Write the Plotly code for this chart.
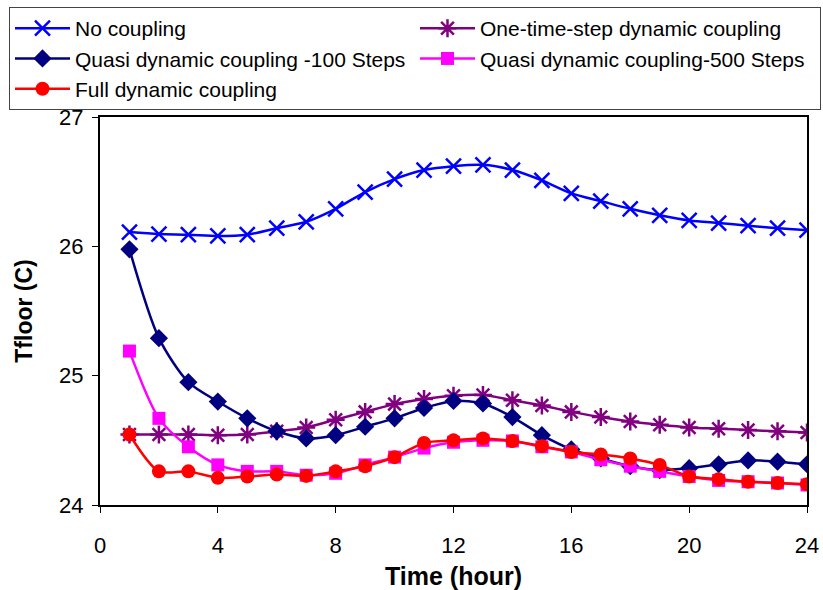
import plotly.graph_objects as go

hours = list(range(1, 25))

no_coupling = [26.11, 26.095, 26.09, 26.08, 26.09, 26.14, 26.19, 26.29, 26.42, 26.52, 26.59, 26.62,
               26.63, 26.59, 26.51, 26.41, 26.35, 26.29, 26.24, 26.20, 26.18, 26.16, 26.14, 26.125]
one_step = [24.545, 24.545, 24.545, 24.54, 24.545, 24.57, 24.60, 24.66, 24.72, 24.78, 24.82, 24.845,
            24.85, 24.81, 24.77, 24.72, 24.68, 24.645, 24.62, 24.60, 24.59, 24.58, 24.57, 24.56]
quasi_100 = [25.977, 25.29, 24.95, 24.80, 24.67, 24.57, 24.515, 24.54, 24.605, 24.67, 24.75, 24.805,
             24.785, 24.68, 24.54, 24.43, 24.36, 24.30, 24.27, 24.285, 24.315, 24.345, 24.335, 24.315]
quasi_500 = [25.19, 24.67, 24.45, 24.31, 24.26, 24.26, 24.23, 24.245, 24.31, 24.37, 24.44, 24.485,
             24.50, 24.495, 24.45, 24.41, 24.35, 24.30, 24.26, 24.22, 24.19, 24.18, 24.17, 24.155]
full_dyn = [24.545, 24.26, 24.26, 24.21, 24.22, 24.235, 24.225, 24.26, 24.30, 24.37, 24.48, 24.50,
            24.515, 24.495, 24.455, 24.41, 24.39, 24.36, 24.31, 24.22, 24.20, 24.18, 24.17, 24.16]

series = [
    ("No coupling", no_coupling, "#0000FF", "x-thin-open", 15),
    ("One-time-step dynamic coupling", one_step, "#800080", "asterisk-open", 15),
    ("Quasi dynamic coupling -100 Steps", quasi_100, "#000080", "diamond", 14),
    ("Quasi dynamic coupling-500 Steps", quasi_500, "#FF00FF", "square", 13),
    ("Full dynamic coupling", full_dyn, "#FF0000", "circle", 14),
]

x_ticks = [0, 4, 8, 12, 16, 20, 24]
y_ticks = [24, 25, 26, 27]

fig = go.Figure()
for name, vals, color, sym, size in series:
    open_sym = sym.endswith("open")
    fig.add_trace(go.Scatter(
        x=hours, y=vals, name=name,
        mode="lines+markers",
        line=dict(color=color, width=2.5, shape="spline", smoothing=0.8),
        marker=dict(symbol=sym, size=size, color=color,
                    line=dict(color=color, width=2.5 if open_sym else 0)),
    ))

font = "Liberation Sans, Arial, sans-serif"
W, H = 823, 590
L, R, T, B = 100, 16, 117, 85
pw, ph = W - L - R, H - T - B

fig.update_layout(
    width=W, height=H,
    margin=dict(l=L, r=R, t=T, b=B, autoexpand=False),
    paper_bgcolor="white", plot_bgcolor="white",
    font=dict(family=font, size=22, color="black"),
    showlegend=True,
    legend=dict(
        orientation="h", xref="paper", yref="paper",
        x=(9 - L) / pw, y=1 + (T - 7) / ph, xanchor="left", yanchor="top",
        entrywidth=335, entrywidthmode="pixels",
        bordercolor="#444444", borderwidth=1, bgcolor="white",
        font=dict(family=font, size=21, color="black"),
        itemwidth=55,
    ),
    xaxis=dict(
        range=[0, 24], tickvals=x_ticks, ticktext=[str(v) for v in x_ticks],
        showgrid=False, zeroline=False, showline=True, linecolor="black", linewidth=2,
        mirror=True, ticks="outside", ticklen=6, tickwidth=1, tickcolor="black",
        ticklabelstandoff=14,
        title=dict(text="<b>Time (hour)</b>", font=dict(size=25), standoff=10),
    ),
    yaxis=dict(
        range=[24, 27], tickvals=y_ticks, ticktext=[str(v) for v in y_ticks],
        showgrid=False, zeroline=False, showline=True, linecolor="black", linewidth=2,
        mirror=True, ticks="outside", ticklen=6, tickwidth=1, tickcolor="black",
        ticklabelstandoff=4,
        title=dict(text="<b>Tfloor (C)</b>", font=dict(size=23), standoff=20),
    ),
)

fig.write_html("out.html", config={"displayModeBar": False},
               post_script="document.body.style.margin='0';")
